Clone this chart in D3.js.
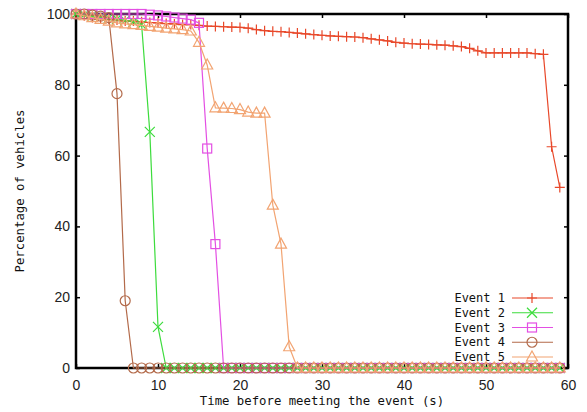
<!DOCTYPE html>
<html>
<head>
<meta charset="utf-8">
<script src="https://cdn.jsdelivr.net/npm/d3@7"></script>
<style>
  body { margin: 0; background: #fff; }
  svg { display: block; }
</style>
</head>
<body>
<div id="chart"></div>
<script>
// time (s), one sample per second
var times = d3.range(0, 60);

// percentage of vehicles for each event
function zeros(n) { var a = []; for (var i = 0; i < n; i++) a.push(0); return a; }

var event1 = [100, 99.5, 99, 98.8, 98.5, 98.3, 98, 98, 97.8, 97.6,
              97.5, 97.3, 97.2, 97, 97, 96.8, 96.6, 96.5, 96.4, 96.3,
              96.2, 96, 95.6, 95.3, 95.1, 95, 94.8, 94.6, 94.4, 94.2,
              94, 93.8, 93.7, 93.6, 93.5, 93.3, 93, 92.7, 92.4, 92,
              91.8, 91.6, 91.5, 91.4, 91.3, 91.2, 91, 90.8, 90.3, 89.6,
              89, 89, 89, 89, 89, 89, 88.8, 88.6, 62.5, 51];
var event2 = [100, 99.8, 99.5, 99.2, 98.9, 98.6, 98.2, 97.8, 97, 66.7, 11.6].concat(zeros(49));
var event3 = [100, 100, 100, 100, 100, 100, 100, 100, 100, 99.8,
              99.6, 99.3, 99, 98.7, 98.4, 97.5, 62, 35].concat(zeros(42));
var event4 = [100, 100, 99.7, 99.4, 99, 77.5, 19].concat(zeros(53));
var event5 = [100, 99.5, 99, 98.5, 98, 97.5, 97.2, 97, 96.8, 96.5,
              96.3, 96, 95.8, 95.6, 95.2, 92, 85.6, 73.5, 73.4, 73.3,
              73, 72.3, 72, 72, 46, 35, 6].concat(zeros(33));

var seriesNames = ['Event 1', 'Event 2', 'Event 3', 'Event 4', 'Event 5'];
var seriesValues = [event1, event2, event3, event4, event5];
var seriesColors = ['#e8482a', '#3ddc3d', '#e34fe3', '#b36a4a', '#f2a472'];
var seriesMarkers = ['plus', 'cross', 'square', 'circle', 'triangle'];

var xTicks = [0, 10, 20, 30, 40, 50, 60];
var yTicks = [0, 20, 40, 60, 80, 100];

var width = 587, height = 412;
var margin = { top: 14, right: 19, bottom: 44, left: 76 };
var plotW = width - margin.left - margin.right,
    plotH = height - margin.top - margin.bottom;

var svg = d3.select('#chart').append('svg')
  .attr('width', width)
  .attr('height', height);

var x = d3.scaleLinear().domain([0, 60]).range([margin.left, margin.left + plotW]);
var y = d3.scaleLinear().domain([0, 100]).range([margin.top + plotH, margin.top]);

var tickFont = '"Liberation Sans", Arial, sans-serif';
var monoFont = '"DejaVu Sans Mono", monospace';

// axes, ticks inward on all four sides (gnuplot style)
function styleAxis(g) {
  g.select('.domain').remove();
  g.selectAll('.tick line').attr('stroke', '#000').attr('stroke-width', 1.5);
  g.selectAll('.tick text').attr('fill', '#222')
    .style('font-family', tickFont).style('font-size', '14px');
}

svg.append('g')
  .attr('transform', 'translate(' + margin.left + ',0)')
  .call(d3.axisLeft(y).tickValues(yTicks).tickSize(-4).tickPadding(6))
  .call(styleAxis);

svg.append('g')
  .attr('transform', 'translate(' + (margin.left + plotW) + ',0)')
  .call(d3.axisRight(y).tickValues(yTicks).tickSize(-4).tickFormat(''))
  .call(styleAxis);

svg.append('g')
  .attr('transform', 'translate(0,' + (margin.top + plotH) + ')')
  .call(d3.axisBottom(x).tickValues(xTicks).tickSize(-4).tickPadding(12))
  .call(styleAxis);

svg.append('g')
  .attr('transform', 'translate(0,' + margin.top + ')')
  .call(d3.axisTop(x).tickValues(xTicks).tickSize(-4).tickFormat(''))
  .call(styleAxis);

// frame
svg.append('rect')
  .attr('x', margin.left).attr('y', margin.top)
  .attr('width', plotW).attr('height', plotH)
  .attr('fill', 'none').attr('stroke', '#000').attr('stroke-width', 2.5);

// axis titles
svg.append('text')
  .attr('x', margin.left + plotW / 2).attr('y', 405)
  .attr('text-anchor', 'middle')
  .style('font-family', monoFont).style('font-size', '12.3px').attr('fill', '#111')
  .text('Time before meeting the event (s)');

svg.append('text')
  .attr('transform', 'translate(24,' + (margin.top + plotH / 2) + ') rotate(-90)')
  .attr('text-anchor', 'middle')
  .style('font-family', monoFont).style('font-size', '12.3px').attr('fill', '#111')
  .text('Percentage of vehicles');

// marker drawing
function drawMarker(g, type, cx, cy, color) {
  var s = 5;
  if (type === 'plus') {
    g.append('path').attr('d', 'M' + (cx - s) + ',' + cy + 'H' + (cx + s) + 'M' + cx + ',' + (cy - s) + 'V' + (cy + s))
      .attr('stroke', color).attr('fill', 'none');
  } else if (type === 'cross') {
    g.append('path').attr('d', 'M' + (cx - s) + ',' + (cy - s) + 'L' + (cx + s) + ',' + (cy + s) +
      'M' + (cx - s) + ',' + (cy + s) + 'L' + (cx + s) + ',' + (cy - s))
      .attr('stroke', color).attr('fill', 'none');
  } else if (type === 'square') {
    g.append('rect').attr('x', cx - 4.5).attr('y', cy - 4.5).attr('width', 9).attr('height', 9)
      .attr('stroke', color).attr('fill', 'none');
  } else if (type === 'circle') {
    g.append('circle').attr('cx', cx).attr('cy', cy).attr('r', 5)
      .attr('stroke', color).attr('fill', 'none');
  } else if (type === 'triangle') {
    g.append('path').attr('d', 'M' + cx + ',' + (cy - 6) + 'L' + (cx + 5.5) + ',' + (cy + 4) +
      'L' + (cx - 5.5) + ',' + (cy + 4) + 'Z')
      .attr('stroke', color).attr('fill', 'none');
  }
}

var line = d3.line()
  .x(function(d, i) { return x(times[i]); })
  .y(function(d) { return y(d); });

seriesValues.forEach(function(vals, k) {
  var g = svg.append('g').attr('stroke-width', 1.2);
  g.append('path')
    .datum(vals)
    .attr('d', line)
    .attr('fill', 'none')
    .attr('stroke', seriesColors[k])
    .attr('stroke-width', 1.2);
  vals.forEach(function(v, i) {
    drawMarker(g, seriesMarkers[k], x(times[i]), y(v), seriesColors[k]);
  });
});

// legend
var legendY = d3.scaleLinear().domain([0, 4]).range([298, 357]);
seriesNames.forEach(function(name, k) {
  var ly = legendY(k);
  var g = svg.append('g').attr('stroke-width', 1.2);
  g.append('text')
    .attr('x', 505).attr('y', ly).attr('dy', '0.35em')
    .attr('text-anchor', 'end')
    .style('font-family', monoFont).style('font-size', '12px').attr('fill', '#111')
    .attr('stroke', 'none')
    .text(name);
  g.append('line')
    .attr('x1', 512).attr('x2', 553).attr('y1', ly).attr('y2', ly)
    .attr('stroke', seriesColors[k]);
  drawMarker(g, seriesMarkers[k], 532, ly, seriesColors[k]);
});
</script>
</body>
</html>
